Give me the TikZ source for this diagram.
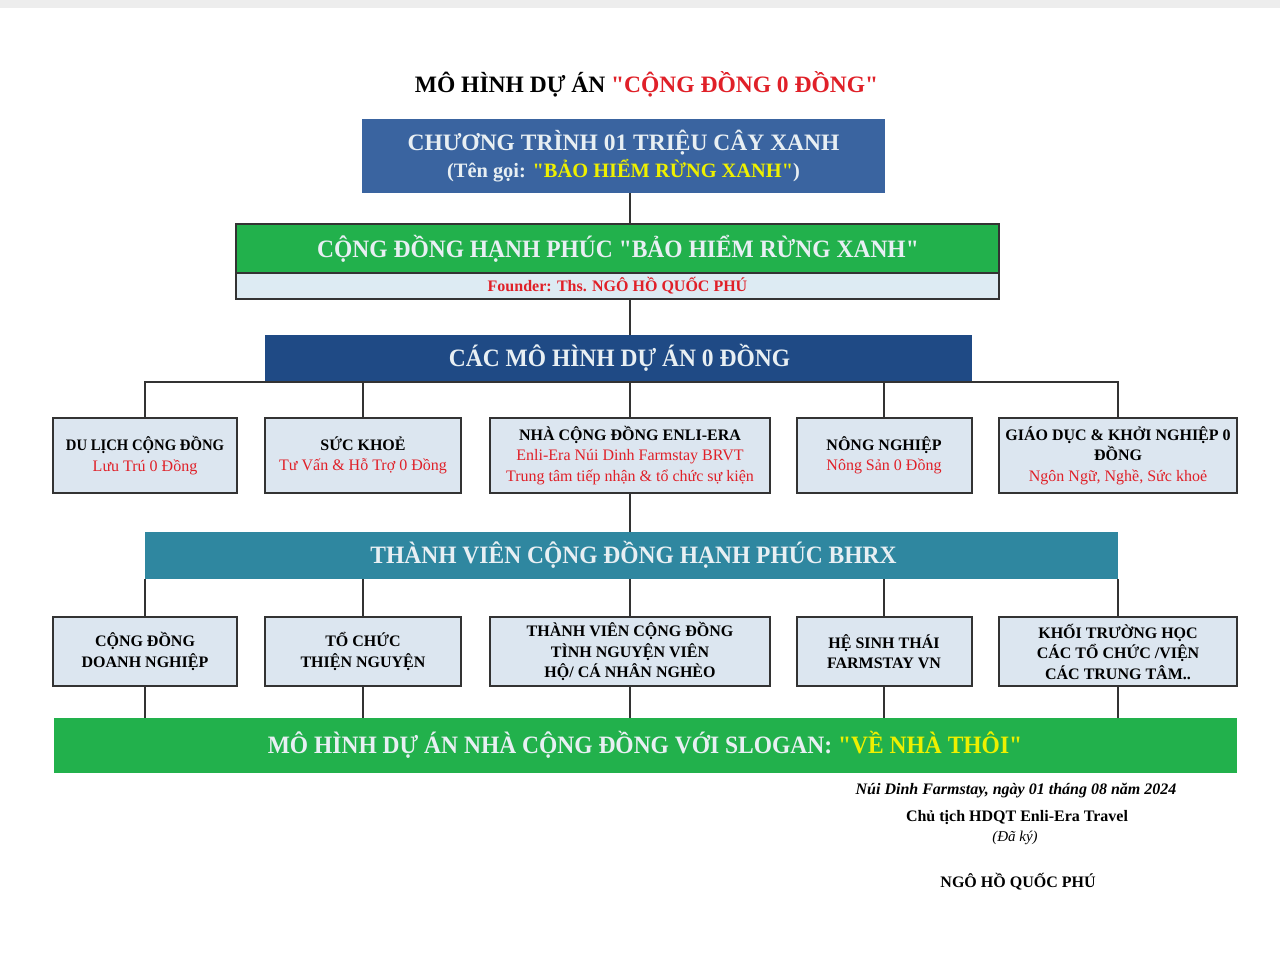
\documentclass[tikz,border=0pt]{standalone}
\usepackage{fontspec}
\usepackage{graphicx}
\setmainfont{Liberation Serif}[Ligatures=TeXOff]
\newdimen\px \px=0.75pt
\newcommand\fs[2]{\fontsize{#1\px}{#2\px}\selectfont}
\newcommand\hs[2]{\scalebox{#1}[1]{#2}}
\definecolor{topgray}{HTML}{EDEDED}
\definecolor{bluea}{HTML}{3A64A0}
\definecolor{blueb}{HTML}{1F4A85}
\definecolor{greenbar}{HTML}{22B14C}
\definecolor{tealbar}{HTML}{2F87A0}
\definecolor{lightbox}{HTML}{DCE6F0}
\definecolor{founderbg}{HTML}{DDEBF3}
\definecolor{lighttxt}{HTML}{E8EFF3}
\definecolor{yel}{HTML}{EEF000}
\definecolor{redtxt}{HTML}{E02028}
\definecolor{boxline}{HTML}{333333}
\definecolor{conline}{HTML}{333333}
\tikzset{
  bar/.style={inner sep=0, text=lighttxt, align=center},
  rowbox/.style={draw=boxline, line width=2\px, fill=lightbox, inner sep=0, align=center, font=\fs{16}{20.5}\bfseries},
  conn/.style={draw=conline, line width=1.6\px},
  plain/.style={inner sep=0, align=center},
}
\begin{document}
\begin{tikzpicture}[x=0.75pt, y=-0.75pt]
\useasboundingbox (0,0) rectangle (1280,958);
\fill[white] (0,0) rectangle (1280,958);
\fill[topgray] (0,0) rectangle (1280,8);

% title
\node[plain, font=\fs{23.5}{26}\bfseries] (title) at (646.5,84) {MÔ HÌNH DỰ ÁN \textcolor{redtxt}{"CỘNG ĐỒNG 0 ĐỒNG"}};

% box 1
\node[bar, fill=bluea, minimum width=523\px, minimum height=74\px] (b1) at (623.5,156) {};
\node[plain, text=lighttxt, font=\fs{23.5}{26}\bfseries] (b1a) at (623.5,143) {CHƯƠNG TRÌNH 01 TRIỆU CÂY XANH};
\node[plain, text=lighttxt, font=\fs{20.4}{22}\bfseries] (b1b) at (623.5,171) {(Tên gọi: \textcolor{yel}{"BẢO HIỂM RỪNG XANH"})};

% box 2
\node[bar, fill=greenbar, draw=boxline, line width=1.5\px, minimum width=763\px, minimum height=49\px] (b2) at (617.5,248.5) {};
\node[plain, text=lighttxt, font=\fs{25}{27}\bfseries] (b2t) at (618,249) {\hs{0.94}{CỘNG ĐỒNG HẠNH PHÚC "BẢO HIỂM RỪNG XANH"}};
\node[bar, fill=founderbg, draw=boxline, line width=1.5\px, minimum width=763\px, minimum height=26\px, text=redtxt, font=\fs{16}{18}\bfseries] (b2f) at (617.5,286) {Founder: Ths. NGÔ HỒ QUỐC PHÚ};

% box 3
\node[bar, fill=blueb, minimum width=707\px, minimum height=47\px] (b3) at (618.5,358.5) {};
\node[plain, text=lighttxt, font=\fs{25}{27}\bfseries] (b3t) at (619.5,358) {\hs{0.94}{CÁC MÔ HÌNH DỰ ÁN 0 ĐỒNG}};

% row 1
\node[rowbox, minimum width=184\px, minimum height=75\px] (r1a) at (145,455.5) {\hs{0.92}{DU LỊCH CỘNG ĐỒNG}\\\textcolor{redtxt}{\mdseries Lưu Trú 0 Đồng}};
\node[rowbox, minimum width=196\px, minimum height=75\px] (r1b) at (363,455.5) {SỨC KHOẺ\\\textcolor{redtxt}{\mdseries Tư Vấn \& Hỗ Trợ 0 Đồng}};
\node[rowbox, minimum width=280\px, minimum height=75\px] (r1c) at (630,455.5) {NHÀ CỘNG ĐỒNG ENLI-ERA\\\textcolor{redtxt}{\mdseries Enli-Era Núi Dinh Farmstay BRVT}\\\textcolor{redtxt}{\mdseries Trung tâm tiếp nhận \& tổ chức sự kiện}};
\node[rowbox, minimum width=175\px, minimum height=75\px] (r1d) at (884,455.5) {NÔNG NGHIỆP\\\textcolor{redtxt}{\mdseries Nông Sản 0 Đồng}};
\node[rowbox, minimum width=238\px, minimum height=75\px] (r1e) at (1118,455.5) {GIÁO DỤC \& KHỞI NGHIỆP 0\\ĐỒNG\\\textcolor{redtxt}{\mdseries Ngôn Ngữ, Nghề, Sức khoẻ}};

% bar 4
\node[bar, fill=tealbar, minimum width=973\px, minimum height=47\px] (b4) at (631.5,555.5) {};
\node[plain, text=lighttxt, font=\fs{25}{27}\bfseries] (b4t) at (633.5,555) {\hs{0.94}{THÀNH VIÊN CỘNG ĐỒNG HẠNH PHÚC BHRX}};

% row 2
\node[rowbox, minimum width=184\px, minimum height=69\px] (r2a) at (145,651.5) {CỘNG ĐỒNG\\DOANH NGHIỆP};
\node[rowbox, minimum width=196\px, minimum height=69\px] (r2b) at (363,651.5) {TỔ CHỨC\\THIỆN NGUYỆN};
\node[rowbox, minimum width=280\px, minimum height=69\px] (r2c) at (630,651.5) {THÀNH VIÊN CỘNG ĐỒNG\\TÌNH NGUYỆN VIÊN\\HỘ/ CÁ NHÂN NGHÈO};
\node[rowbox, minimum width=175\px, minimum height=69\px] (r2d) at (884,651.5) {HỆ SINH THÁI\\FARMSTAY VN};
\node[rowbox, minimum width=238\px, minimum height=69\px] (r2e) at (1118,651.5) {KHỐI TRƯỜNG HỌC\\CÁC TỔ CHỨC /VIỆN\\CÁC TRUNG TÂM..};

% bar 5
\node[bar, fill=greenbar, minimum width=1183\px, minimum height=55\px] (b5) at (645.5,745.5) {};
\node[plain, text=lighttxt, font=\fs{25}{27}\bfseries] (b5t) at (645,745) {\hs{0.94}{MÔ HÌNH DỰ ÁN NHÀ CỘNG ĐỒNG VỚI SLOGAN: \textcolor{yel}{"VỀ NHÀ THÔI"}}};

% signature
\node[plain, font=\fs{16}{18}\bfseries\itshape] (s1) at (1016,791) {Núi Dinh Farmstay, ngày 01 tháng 08 năm 2024};
\node[plain, font=\fs{16}{18}\bfseries] (s2) at (1017,818) {Chủ tịch HDQT Enli-Era Travel};
\node[plain, font=\fs{15}{17}\itshape] (s3) at (1015,838) {(Đã ký)};
\node[plain, font=\fs{16}{18}\bfseries] (s4) at (1018,882) {NGÔ HỒ QUỐC PHÚ};

% connectors
\coordinate (spine) at (630,0);
\draw[conn] (spine |- b1.south) -- (spine |- b2.north);
\draw[conn] (spine |- b2f.south) -- (spine |- b3.north);
\draw[conn] (r1a.north) -- (r1a.north |- b3.south) -- (r1e.north |- b3.south) -- (r1e.north);
\foreach \n in {r1b,r1c,r1d} \draw[conn] (\n.north) -- (\n.north |- b3.south);
\draw[conn] (r1c.south) -- (r1c.south |- b4.north);
\foreach \n in {r2a,r2b,r2c,r2d,r2e} {
  \draw[conn] (\n.north) -- (\n.north |- b4.south);
  \draw[conn] (\n.south) -- (\n.south |- b5.north);
}
\end{tikzpicture}
\end{document}
